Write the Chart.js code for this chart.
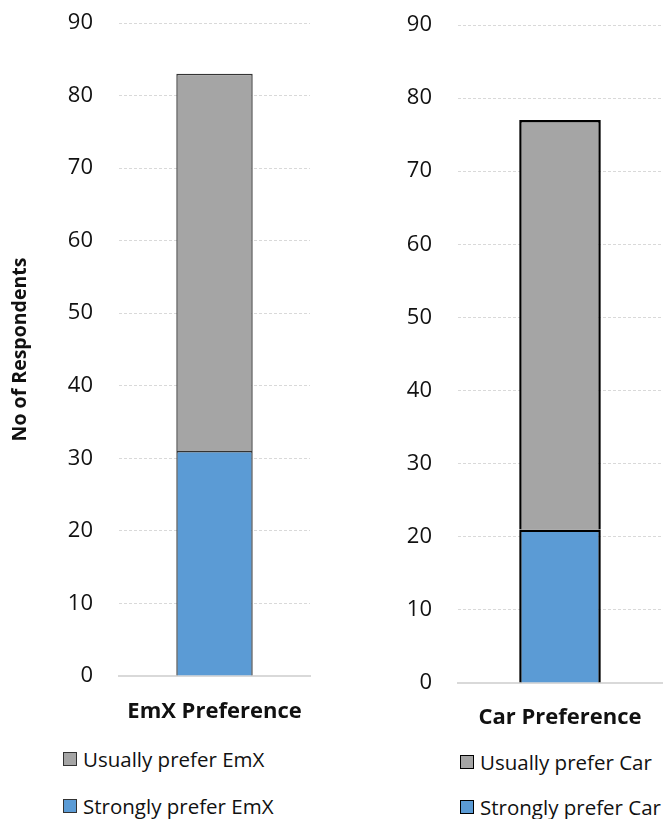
<!DOCTYPE html>
<html>
<head>
<meta charset="utf-8">
<title>Respondent preferences</title>
<script src="https://cdn.jsdelivr.net/npm/chart.js@4/dist/chart.umd.min.js"></script>
<style>
  html, body { margin: 0; padding: 0; background: #ffffff; }
  #wrap { position: relative; width: 667px; height: 819px; overflow: hidden; background: #ffffff; }
  canvas { position: absolute; top: 0; }
  .legend-item {
    position: absolute; height: 30px; display: flex; align-items: center;
    font-family: "Open Sans", sans-serif; font-size: 20.5px; color: #111111; white-space: nowrap;
  }
  .legend-box { width: 12px; height: 12px; margin-right: 6px; box-sizing: content-box; }
</style>
</head>
<body>
<div id="wrap">
  <canvas id="emxChart" width="333" height="740" style="left:0px"></canvas>
  <canvas id="carChart" width="334" height="740" style="left:333px"></canvas>
</div>
<script>
// Survey results: number of respondents per preference level
const emxCategories = ['EmX Preference'];
const emxStrongly = [31];
const emxUsually = [52];

const carCategories = ['Car Preference'];
const carStrongly = [21];
const carUsually = [56];

const yTicks = [0, 10, 20, 30, 40, 50, 60, 70, 80, 90];

const FONT = '"Open Sans", sans-serif';
const BLUE = '#5b9bd5';
const GREY = '#a5a5a5';

function makeChart(canvasId, cfg) {
  return new Chart(document.getElementById(canvasId), {
    type: 'bar',
    data: {
      labels: cfg.categories,
      datasets: [
        {
          label: cfg.stronglyLabel,
          data: cfg.strongly,
          backgroundColor: BLUE,
          borderColor: cfg.borderColor,
          borderWidth: cfg.borderWidth
        },
        {
          label: cfg.usuallyLabel,
          data: cfg.usually,
          backgroundColor: GREY,
          borderColor: cfg.borderColor,
          borderWidth: cfg.borderWidth
        }
      ]
    },
    options: {
      responsive: false,
      animation: false,
      devicePixelRatio: 1,
      layout: { padding: cfg.padding },
      datasets: { bar: { categoryPercentage: 1, barPercentage: 0.4 } },
      plugins: {
        legend: { display: false },
        tooltip: { enabled: false }
      },
      scales: {
        x: {
          stacked: true,
          grid: { display: false, drawTicks: false },
          border: { display: true, color: '#d9d9d9', width: 2 },
          ticks: {
            color: '#111111',
            font: { family: FONT, size: 22, weight: 'bold' },
            padding: cfg.xTickPadding
          },
          afterFit: s => {
            s.height = cfg.xHeight;
            s.paddingLeft = 0;
            s.paddingRight = 0;
          }
        },
        y: {
          stacked: true,
          min: 0,
          max: 90,
          afterBuildTicks: s => { s.ticks = yTicks.map(v => ({ value: v })); },
          grid: { color: '#d9d9d9', lineWidth: 1, drawTicks: false },
          border: { display: false, dash: [3, 2] },
          ticks: {
            color: '#111111',
            font: { family: FONT, size: 22 },
            padding: 26
          },
          title: {
            display: cfg.yTitle !== '',
            text: cfg.yTitle,
            color: '#111111',
            font: { family: FONT, size: 19.5, weight: 'bold' },
            padding: { top: 9, bottom: 0 }
          },
          afterFit: s => {
            s.width = cfg.yWidth;
            s.paddingTop = 0;
            s.paddingBottom = 0;
          }
        }
      }
    }
  });
}

function buildLegend(chart, left, rowCenters, boxBorder) {
  const wrap = document.getElementById('wrap');
  const items = Chart.defaults.plugins.legend.labels.generateLabels(chart).reverse();
  items.forEach((item, i) => {
    const row = document.createElement('div');
    row.className = 'legend-item';
    row.style.left = left + 'px';
    row.style.top = (rowCenters[i] - 15) + 'px';
    const box = document.createElement('span');
    box.className = 'legend-box';
    box.style.background = item.fillStyle;
    box.style.border = boxBorder;
    const text = document.createElement('span');
    text.textContent = item.text;
    row.appendChild(box);
    row.appendChild(text);
    wrap.appendChild(row);
  });
}

const emxChart = makeChart('emxChart', {
  categories: emxCategories,
  strongly: emxStrongly,
  usually: emxUsually,
  stronglyLabel: 'Strongly prefer EmX',
  usuallyLabel: 'Usually prefer EmX',
  borderColor: '#333333',
  borderWidth: 1.4,
  padding: { top: 23, left: 0, right: 23, bottom: 0 },
  yWidth: 119,
  xHeight: 64,
  xTickPadding: 23,
  yTitle: 'No of Respondents'
});

const carChart = makeChart('carChart', {
  categories: carCategories,
  strongly: carStrongly,
  usually: carUsually,
  stronglyLabel: 'Strongly prefer Car',
  usuallyLabel: 'Usually prefer Car',
  borderColor: '#000000',
  borderWidth: 2.5,
  padding: { top: 25, left: 0, right: 5, bottom: 0 },
  yWidth: 125,
  xHeight: 57,
  xTickPadding: 22,
  yTitle: ''
});

buildLegend(emxChart, 63, [759, 806], '1px solid #333333');
buildLegend(carChart, 460, [762, 807], '1.5px solid #000000');
</script>
</body>
</html>
